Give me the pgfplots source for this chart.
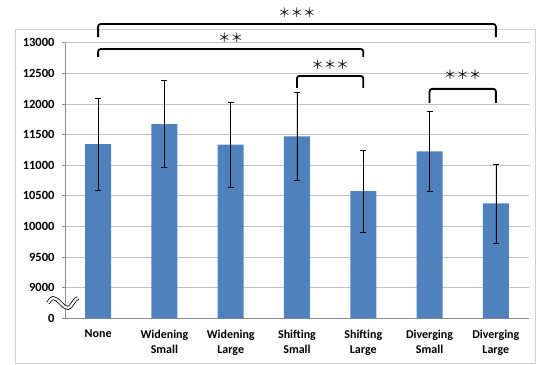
\documentclass[border=0pt]{standalone}
\usepackage{pgfplots}
\pgfplotsset{compat=1.18}
\usepackage{fontspec}
\setmainfont{Carlito}
\newfontfamily\cjk{Noto Sans CJK JP}
\definecolor{barblue}{HTML}{4F81BD}
\definecolor{gridgray}{HTML}{C0C0C0}
\definecolor{axisgray}{HTML}{8C8C8C}
\definecolor{framegray}{HTML}{D0D0D0}

% mean and standard deviation per condition
\pgfplotstableread{
x  y      e
0  11345  750
1  11670  710
2  11335  695
3  11470  715
4  10575  670
5  11225  650
6  10375  645
}\results

\begin{document}
\begin{tikzpicture}
\useasboundingbox (0,0) rectangle (536bp,365bp);
\draw[framegray, line width=0.9bp] (15bp,2bp) rectangle (535.5bp,336bp);
\begin{axis}[
  at={(65bp,46.7bp)}, anchor=south west,
  scale only axis, width=464bp, height=275.6bp,
  xmin=-0.5, xmax=6.5, ymin=8500, ymax=13000,
  axis x line*=bottom, axis y line*=left,
  axis line style={axisgray, line width=0.8bp},
  ybar, bar width=26bp,
  clip=false,
  scaled y ticks=false,
  ymajorgrids, major grid style={gridgray, line width=0.8bp},
  xtick={0,...,6},
  xticklabels={None, {Widening\\Small}, {Widening\\Large}, {Shifting\\Small}, {Shifting\\Large}, {Diverging\\Small}, {Diverging\\Large}},
  xticklabel style={align=center, font=\bfseries\fontsize{12bp}{15bp}\selectfont, yshift=-5bp},
  x tick style={draw=none},
  extra x ticks={-0.5,0.5,...,6.5},
  extra x tick labels={},
  extra x tick style={grid=none, tick align=outside, major tick length=4bp, tick style={axisgray, line width=0.8bp}},
  ytick={8500,9000,9500,10000,10500,11000,11500,12000,12500,13000},
  yticklabels={0,9000,9500,10000,10500,11000,11500,12000,12500,13000},
  yticklabel style={font=\bfseries\fontsize{12.5bp}{15bp}\selectfont, xshift=-4bp},
  y tick style={axisgray, line width=0.8bp},
  tick align=outside, major tick length=3bp,
]
\addplot[fill=barblue, draw=none,
  error bars/.cd, y dir=both, y explicit,
  error bar style={black, line width=0.7bp},
  error mark options={rotate=90, mark size=3bp, black, line width=0.7bp}]
  table[x=x, y=y, y error=e] {\results};

% significance brackets
\begin{scope}[line width=1.8bp, rounded corners=2.5bp]
\draw (axis cs:0,13093) -- (axis cs:0,13305) -- (axis cs:6,13305) -- (axis cs:6,13093);
\draw (axis cs:0,12767) -- (axis cs:0,12897) -- (axis cs:4,12897) -- (axis cs:4,12767);
\draw (axis cs:3,12262) -- (axis cs:3,12457) -- (axis cs:4,12457) -- (axis cs:4,12262);
\draw (axis cs:5,12018) -- (axis cs:5,12246) -- (axis cs:6,12246) -- (axis cs:6,12018);
\end{scope}
\begin{scope}[every node/.style={font=\cjk\fontsize{12.5bp}{12.5bp}\selectfont, inner sep=0pt}]
\node at (axis cs:3,13484) {＊＊＊};
\node at (axis cs:2,13077) {＊＊};
\node at (axis cs:3.5,12637) {＊＊＊};
\node at (axis cs:5.5,12474) {＊＊＊};
\end{scope}
\end{axis}
% axis break mark between 0 and 9000
\draw[double=white, double distance=2.2bp, line width=0.8bp]
  (48bp,62bp) sin (53bp,67bp) cos (60.5bp,62bp) sin (68bp,57bp) cos (73bp,62bp) sin (78bp,67bp);
\end{tikzpicture}
\end{document}
